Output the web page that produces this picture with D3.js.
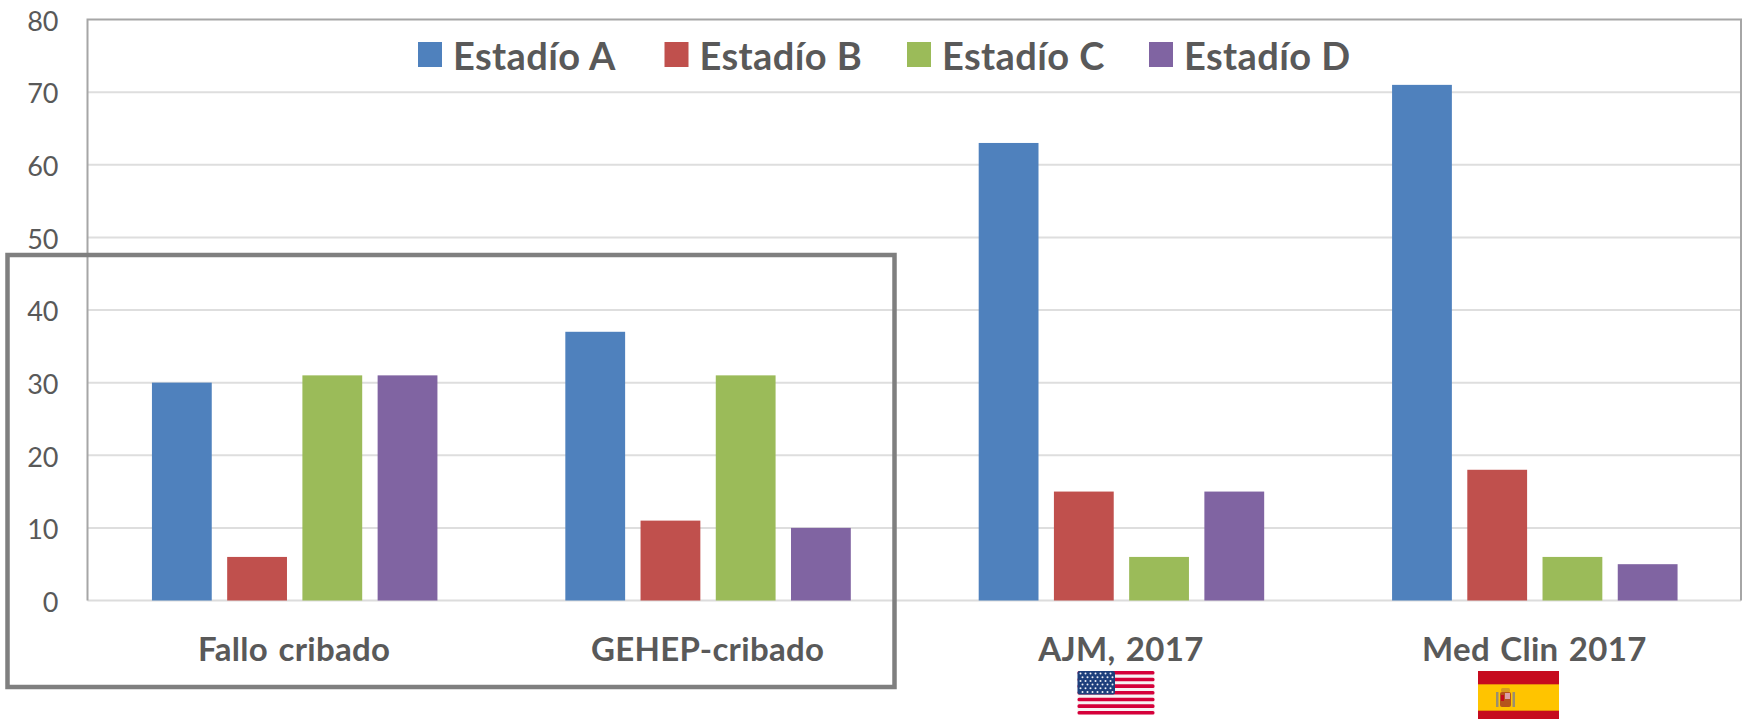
<!DOCTYPE html>
<html>
<head>
<meta charset="utf-8">
<script src="https://cdn.jsdelivr.net/npm/d3@7"></script>
<style>
  html, body { margin: 0; padding: 0; background: #fff; }
  svg { display: block; }
</style>
</head>
<body>
<div id="chart"></div>
<script>
const categories = ["Fallo cribado", "GEHEP-cribado", "AJM, 2017", "Med Clin 2017"];
const seriesNames = ["Estadío A", "Estadío B", "Estadío C", "Estadío D"];
const seriesColors = ["#4f81bd", "#c0504d", "#9bbb59", "#8064a2"];
const estadioA = [30, 37, 63, 71];
const estadioB = [6, 11, 15, 18];
const estadioC = [31, 31, 6, 6];
const estadioD = [31, 10, 15, 5];
const yTicks = [0, 10, 20, 30, 40, 50, 60, 70, 80];

const seriesValues = [estadioA, estadioB, estadioC, estadioD];
const width = 1746, height = 719;
const plot = {left: 87.5, right: 1741, top: 19.5, bottom: 600.5};

const svg = d3.select("#chart").append("svg")
    .attr("width", width)
    .attr("height", height)
    .attr("font-family", "Lato, sans-serif");

const x0 = d3.scaleBand().domain(categories).range([plot.left, plot.right]);
const x1 = d3.scaleBand().domain(d3.range(4))
    .range([0, x0.bandwidth()])
    .paddingInner(0.205)
    .paddingOuter(0.85);
const y = d3.scaleLinear().domain([0, 80]).range([plot.bottom, plot.top]);

// gridlines
svg.append("g")
  .selectAll("line")
  .data(yTicks.filter(d => d > 0 && d < 80))
  .join("line")
    .attr("x1", plot.left).attr("x2", plot.right)
    .attr("y1", d => y(d)).attr("y2", d => y(d))
    .attr("stroke", "#dedede")
    .attr("stroke-width", 2);

// frame, left and top are darker than the baseline
svg.append("line").attr("x1", plot.left).attr("x2", plot.right)
    .attr("y1", plot.bottom).attr("y2", plot.bottom)
    .attr("stroke", "#dcdcdc").attr("stroke-width", 2);
svg.append("path")
    .attr("d", `M${plot.left},${plot.bottom}V${plot.top}H${plot.right}V${plot.bottom}`)
    .attr("fill", "none").attr("stroke", "#a6a6a6").attr("stroke-width", 2);

// y axis labels
const yAxis = d3.axisLeft(y).tickValues(yTicks).tickSize(0).tickPadding(29);
svg.append("g")
    .attr("transform", `translate(${plot.left},0)`)
    .call(yAxis)
    .call(g => g.select(".domain").remove())
    .call(g => g.selectAll("text")
        .attr("dy", "0.4em")
        .attr("font-size", 27)
        .attr("font-family", "Lato, sans-serif")
        .attr("fill", "#595959"));

// bars
seriesValues.forEach((vals, s) => {
  svg.append("g")
    .selectAll("rect")
    .data(vals)
    .join("rect")
      .attr("x", (d, i) => x0(categories[i]) + x1(s) + 0.5)
      .attr("y", d => y(d))
      .attr("width", x1.bandwidth())
      .attr("height", d => y(0) - y(d))
      .attr("fill", seriesColors[s]);
});

// category labels
svg.append("g")
  .selectAll("text")
  .data(categories)
  .join("text")
    .attr("x", d => x0(d) + x0.bandwidth() / 2)
    .attr("y", 661)
    .attr("text-anchor", "middle")
    .attr("font-size", 33)
    .attr("font-weight", 700)
    .attr("letter-spacing", 0.3)
    .attr("word-spacing", 2)
    .attr("fill", "#595959")
    .text(d => d);

// legend
const legendX = [418, 664.5, 907, 1149];
const legend = svg.append("g");
seriesNames.forEach((name, i) => {
  legend.append("rect")
      .attr("x", legendX[i]).attr("y", 42)
      .attr("width", 24).attr("height", 25)
      .attr("fill", seriesColors[i]);
  legend.append("text")
      .attr("x", legendX[i] + 35).attr("y", 70)
      .attr("font-size", 38)
      .attr("font-weight", 700)
      .attr("letter-spacing", 0.4)
      .attr("fill", "#595959")
      .text(name);
});

// highlight box
svg.append("rect")
    .attr("x", 7.5).attr("y", 255)
    .attr("width", 887).attr("height", 432)
    .attr("fill", "none")
    .attr("stroke", "#7f7f7f")
    .attr("stroke-width", 4.5);

// usa flag
const us = svg.append("g").attr("transform", "translate(1077.5,671)");
us.append("rect").attr("width", 77).attr("height", 44).attr("rx", 4).attr("fill", "#f7f3f4");
d3.range(7).forEach(i => {
  us.append("rect")
      .attr("y", i * 6.67).attr("width", 77).attr("height", 3.6)
      .attr("rx", 1.5).attr("fill", "#d5003a");
});
us.append("rect").attr("width", 37.5).attr("height", 23.5).attr("rx", 2).attr("fill", "#1d3f7c");
d3.range(6).forEach(r => {
  d3.range(7).forEach(c => {
    us.append("circle")
        .attr("cx", 3 + c * 5 + (r % 2) * 2).attr("cy", 2.5 + r * 3.7)
        .attr("r", 1).attr("fill", "#eef1f7");
  });
});

// spanish flag
const es = svg.append("g").attr("transform", "translate(1478,671)");
es.append("rect").attr("width", 81).attr("height", 48).attr("fill", "#c60b1e");
es.append("rect").attr("y", 13).attr("width", 81).attr("height", 27).attr("fill", "#ffc400");
es.append("rect").attr("y", 13).attr("width", 81).attr("height", 1).attr("fill", "#e8890b");
es.append("rect").attr("y", 39).attr("width", 81).attr("height", 1).attr("fill", "#e8890b");
es.append("rect").attr("x", 22).attr("y", 21).attr("width", 11).attr("height", 15).attr("rx", 2).attr("fill", "#b5541c");
es.append("rect").attr("x", 27).attr("y", 22).attr("width", 5).attr("height", 6).attr("fill", "#dba0a8");
es.append("rect").attr("x", 23).attr("y", 24).attr("width", 3).attr("height", 6).attr("fill", "#c60b1e");
es.append("rect").attr("x", 23).attr("y", 17).attr("width", 9).attr("height", 4).attr("rx", 1.5).attr("fill", "#d69a1f");
es.append("rect").attr("x", 18).attr("y", 21).attr("width", 2.5).attr("height", 15).attr("fill", "#9a8f70");
es.append("rect").attr("x", 34.5).attr("y", 21).attr("width", 2.5).attr("height", 15).attr("fill", "#9a8f70");
</script>
</body>
</html>
